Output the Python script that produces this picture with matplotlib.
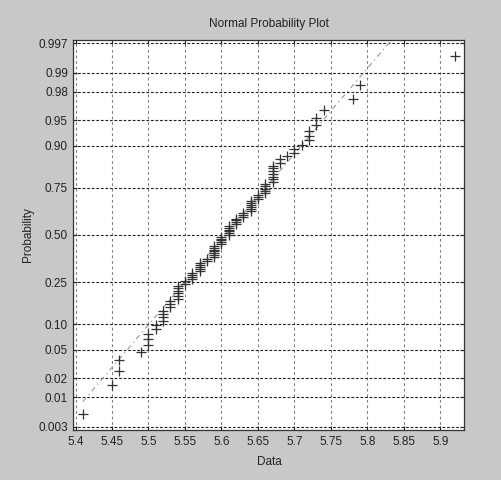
"""Normal probability plot (MATLAB normplot style)."""

from statistics import NormalDist

import matplotlib
matplotlib.use("Agg")
import matplotlib.pyplot as plt
import numpy as np
from matplotlib.ticker import FixedLocator, FixedFormatter

# measured values (rounded to 0.01) and how many times each occurs
values = [5.41, 5.45, 5.46, 5.49, 5.50, 5.51, 5.52, 5.53, 5.54, 5.55,
          5.56, 5.57, 5.58, 5.59, 5.60, 5.61, 5.62, 5.63, 5.64, 5.65,
          5.66, 5.67, 5.68, 5.69, 5.70, 5.71, 5.72, 5.73, 5.74, 5.78,
          5.79, 5.92]
counts = [1, 1, 2, 1, 3, 2, 4, 3, 6, 2,
          4, 5, 2, 7, 5, 6, 4, 3, 6, 3,
          5, 7, 2, 1, 2, 1, 3, 2, 1, 1,
          1, 1]

prob_ticks = [0.003, 0.01, 0.02, 0.05, 0.10, 0.25, 0.50,
              0.75, 0.90, 0.95, 0.98, 0.99, 0.997]
prob_labels = ["0.003", "0.01", "0.02", "0.05", "0.10", "0.25", "0.50",
               "0.75", "0.90", "0.95", "0.98", "0.99", "0.997"]
x_ticks = [5.4, 5.45, 5.5, 5.55, 5.6, 5.65, 5.7, 5.75, 5.8, 5.85, 5.9]
x_labels = ["5.4", "5.45", "5.5", "5.55", "5.6", "5.65", "5.7", "5.75",
            "5.8", "5.85", "5.9"]

nd = NormalDist()
ppf = np.vectorize(lambda p: nd.inv_cdf(min(max(p, 1e-12), 1 - 1e-12)),
                   otypes=[float])
cdf = np.vectorize(nd.cdf, otypes=[float])

data = np.repeat(values, counts)
n = len(data)
probs = (np.arange(1, n + 1) - 0.5) / n

# reference line through the quartiles, drawn from min to max like normplot
q1, q3 = np.percentile(data, [25, 75])
z1, z3 = nd.inv_cdf(0.25), nd.inv_cdf(0.75)
slope = (z3 - z1) / (q3 - q1)
line_x = np.array([data.min(), data.max()])
line_p = cdf(z1 + slope * (line_x - q1))

plt.rcParams["font.family"] = ["Liberation Sans", "DejaVu Sans"]
fig = plt.figure(figsize=(5.01, 4.80), dpi=100, facecolor="#c8c8c8")
ax = fig.add_axes([0.1467, 0.1042, 0.7800, 0.8125])
ax.set_facecolor("white")
ax.set_yscale("function", functions=(ppf, cdf))

ax.plot(line_x, line_p, linestyle="-.", color="#a0a0a0", linewidth=0.9,
        dashes=(4, 3, 1, 3))
ax.plot(data, probs, linestyle="none", marker="+", markersize=6.5,
        markeredgewidth=0.9, color="#333333")

span = data.max() - data.min()
ax.set_xlim(data.min() - 0.025 * span, data.max() + 0.025 * span)
ax.set_ylim(0.25 / n, 1 - 0.25 / n)
ax.xaxis.set_major_locator(FixedLocator(x_ticks))
ax.xaxis.set_major_formatter(FixedFormatter(x_labels))
ax.yaxis.set_major_locator(FixedLocator(prob_ticks))
ax.yaxis.set_major_formatter(FixedFormatter(prob_labels))
ax.yaxis.set_minor_locator(FixedLocator([]))
ax.xaxis.set_minor_locator(FixedLocator([]))

ax.grid(True, axis="x", color="#808080", linestyle=(0, (2.5, 2.5)),
        linewidth=0.8)
ax.grid(True, axis="y", color="#222222", linestyle=(0, (2.5, 1.6)),
        linewidth=0.8)
ax.tick_params(direction="in", length=3, width=0.8, top=True, right=True,
               labelsize=8.5, colors="#222222", pad=4)
for side in ax.spines.values():
    side.set_color("#333333")
    side.set_linewidth(0.9)

ax.set_title("Normal Probability Plot", fontsize=8.5, color="#222222", pad=9)
ax.set_xlabel("Data", fontsize=8.5, color="#222222", labelpad=6)
ax.set_ylabel("Probability", fontsize=8.5, color="#222222", labelpad=3)

fig.savefig("out.png", dpi=100, facecolor=fig.get_facecolor())
